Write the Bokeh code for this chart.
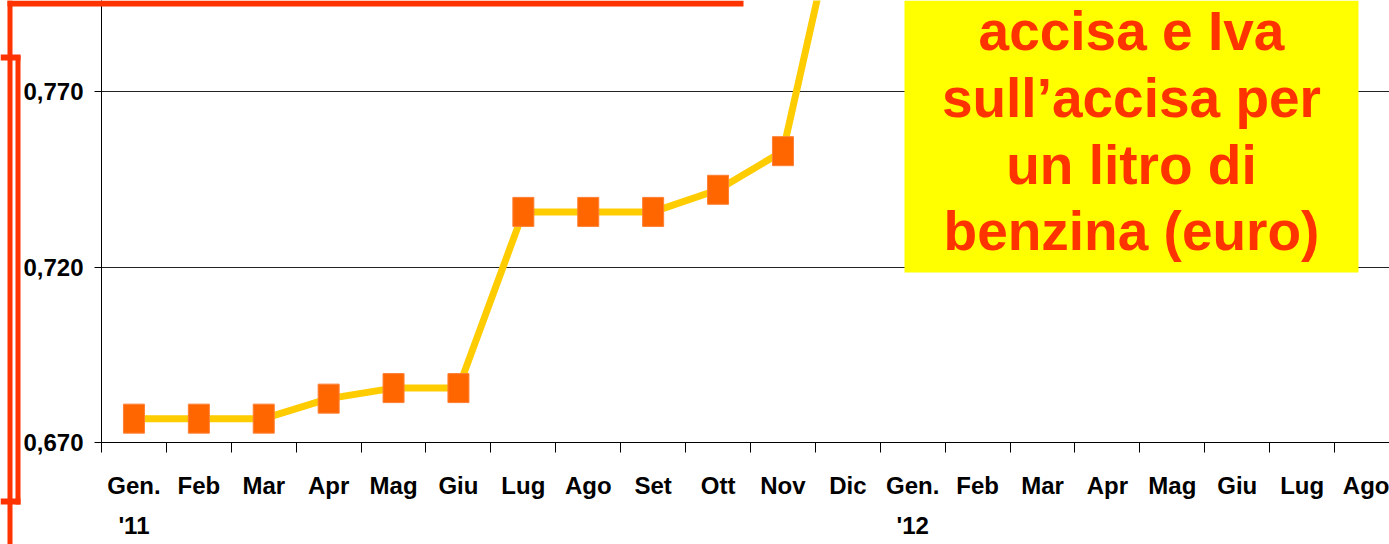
from bokeh.plotting import figure
from bokeh.models import (Range1d, FixedTicker, LinearAxis, CustomJSTickFormatter,
                          BoxAnnotation, Label, GridBox)
from bokeh.embed import file_html
from bokeh.resources import INLINE

# ---------------- data ----------------
months = ["Gen.", "Feb", "Mar", "Apr", "Mag", "Giu", "Lug", "Ago", "Set", "Ott", "Nov", "Dic",
          "Gen.", "Feb", "Mar", "Apr", "Mag", "Giu", "Lug", "Ago"]
years = ["'11", "", "", "", "", "", "", "", "", "", "", "",
         "'12", "", "", "", "", "", "", ""]
# accisa + IVA sull'accisa, euro per litro (visible points)
values = [0.6768, 0.6768, 0.6768, 0.6825, 0.6855, 0.6855,
          0.7357, 0.7357, 0.7357, 0.7420, 0.7530, 0.8350]
y_ticks = [0.670, 0.720, 0.770]
box_lines = ["accisa e Iva", "sull\u2019accisa per", "un litro di", "benzina (euro)"]

# ---------------- styling ----------------
AX_FONT = "Liberation Sans"
AX_SIZE = "24px"
RED = "#FF3300"
W, H = 1389, 544

n = len(months)
xs = [i + 0.5 for i in range(len(values))]

p = figure(frame_width=1288, frame_height=442,
           x_range=Range1d(0, 19.846), y_range=Range1d(0.670, 0.79593),
           output_backend="svg", toolbar_location=None,
           min_border_left=101, min_border_right=0, min_border_top=0, min_border_bottom=0)
p.frame_align = False
p.outline_line_color = None
p.background_fill_color = "white"
p.border_fill_color = "white"

# grid
p.xgrid.visible = False
p.ygrid.ticker = FixedTicker(ticks=y_ticks)
p.ygrid.grid_line_color = "#222222"
p.ygrid.grid_line_width = 1

# y axis
ya = p.yaxis[0]
ya.ticker = FixedTicker(ticks=y_ticks, minor_ticks=[])
ya.formatter = CustomJSTickFormatter(code="return tick.toFixed(3).replace('.', ',');")
ya.major_tick_out = 7
ya.major_tick_in = 0
ya.minor_tick_out = 0
ya.minor_tick_in = 0
ya.major_label_standoff = 11
ya.major_label_text_font = AX_FONT
ya.major_label_text_font_style = "bold"
ya.major_label_text_font_size = AX_SIZE
ya.major_label_text_color = "black"
ya.axis_line_color = "black"

# x axis: month labels centred, ticks at boundaries (minor ticks)
xa = p.xaxis[0]
xa.ticker = FixedTicker(ticks=[i + 0.5 for i in range(n)], minor_ticks=list(range(n + 1)))
xa.major_label_overrides = {i + 0.5: m for i, m in enumerate(months)}
xa.major_tick_out = 0
xa.major_tick_in = 0
xa.minor_tick_out = 10
xa.minor_tick_in = 0
xa.minor_tick_line_color = "black"
xa.major_label_standoff = 19
xa.major_label_text_font = AX_FONT
xa.major_label_text_font_style = "bold"
xa.major_label_text_font_size = AX_SIZE
xa.major_label_text_color = "black"
xa.axis_line_color = "black"

# year line under months
year_axis = LinearAxis(ticker=FixedTicker(ticks=[i + 0.5 for i, y in enumerate(years) if y],
                                          minor_ticks=[]),
                       major_label_overrides={i + 0.5: y for i, y in enumerate(years) if y},
                       axis_line_color=None, major_tick_out=0, major_tick_in=0,
                       minor_tick_out=0, minor_tick_in=0, major_label_standoff=10,
                       major_label_text_font=AX_FONT, major_label_text_font_style="bold",
                       major_label_text_font_size=AX_SIZE, major_label_text_color="black")
p.add_layout(year_axis, "below")

# series
p.line(xs, values, line_color="#FFCC00", line_width=7, line_join="round")
p.rect(xs, values, width=21, height=29, width_units="screen", height_units="screen",
       fill_color="#FF6600", line_color="#FF7F33", line_width=1)

# yellow caption box
p.add_layout(BoxAnnotation(left=12.373, right=19.368, bottom=0.71843, top=None,
                           fill_color="#FFFF00", fill_alpha=1, line_color=None))
baselines = [0.78738, 0.76829, 0.74920, 0.73012]
for txt, yb in zip(box_lines, baselines):
    p.add_layout(Label(x=15.87, y=yb, text=txt, text_align="center",
                       text_baseline="alphabetic", text_font="Liberation Sans",
                       text_font_style="bold", text_font_size="55px", text_color=RED))

# transparent overlay (pixel space) for the red slide callout outlines
ov = figure(width=W, height=H, x_range=Range1d(0, W), y_range=Range1d(H, 0),
            x_axis_type=None, y_axis_type=None, output_backend="svg",
            toolbar_location=None, min_border=0,
            background_fill_color=None, border_fill_color=None)
ov.frame_align = False
ov.outline_line_color = None
bars_left = [7, 7, 15, 0, 0]
bars_right = [743, 12, 20, 20, 20]
bars_top = [0, 0, 55, 54, 498]
bars_bottom = [6, H, 504, 60, 504]
ov.quad(left=bars_left, right=bars_right, top=bars_top, bottom=bars_bottom,
        fill_color=RED, line_color=None)

layout = GridBox(children=[(p, 0, 0), (ov, 0, 0)])

open("out.html", "w").write(file_html(layout, INLINE))
